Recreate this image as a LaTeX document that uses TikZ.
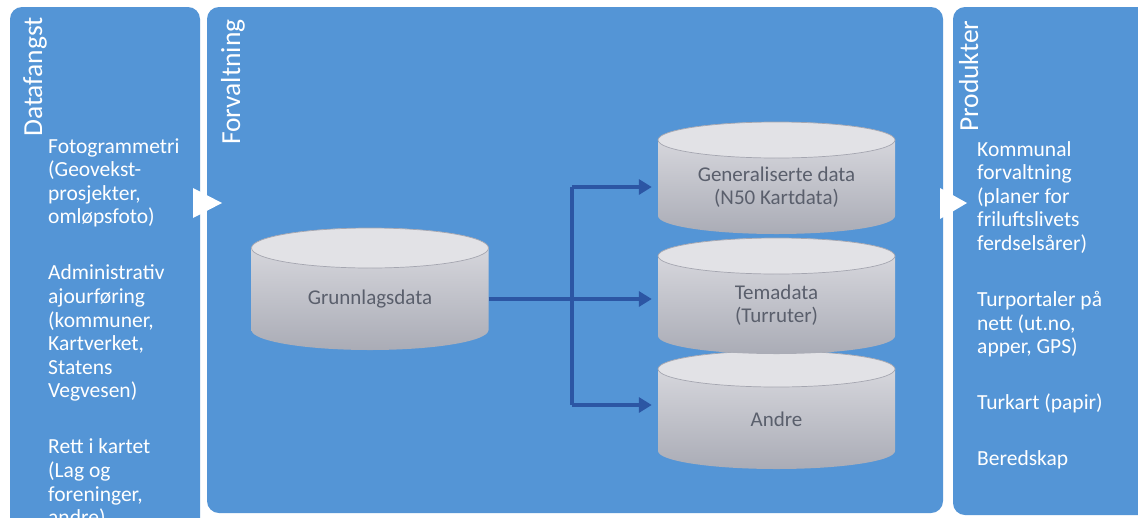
\documentclass[tikz,border=0pt]{standalone}
\usepackage{fontspec}
\setmainfont{Carlito}
\usetikzlibrary{arrows.meta,calc}

\definecolor{panelblue}{RGB}{84,149,214}
\definecolor{connblue}{RGB}{44,86,164}
\definecolor{cyltop}{RGB}{222,222,227}
\definecolor{cylbot}{RGB}{170,172,182}
\definecolor{cylcap}{RGB}{226,226,230}
\definecolor{cylline}{RGB}{165,166,176}
\definecolor{dbink}{RGB}{90,95,108}

\newcommand\cylrx{118.5}
% cylinder: name, centre x, top-ellipse y, bottom-ellipse y, y radius, label
\newcommand\datacyl[6]{%
  \pgfmathsetmacro\ka{0.5523*\cylrx}%
  \pgfmathsetmacro\kb{0.5523*#5}%
  \shade[top color=cyltop, bottom color=cylbot]
    ({#2-\cylrx},#3) -- ({#2-\cylrx},#4)
    .. controls ({#2-\cylrx},{#4+\kb}) and ({#2-\ka},{#4+#5}) .. (#2,{#4+#5})
    .. controls ({#2+\ka},{#4+#5}) and ({#2+\cylrx},{#4+\kb}) .. ({#2+\cylrx},#4)
    -- ({#2+\cylrx},#3)
    .. controls ({#2+\cylrx},{#3-\kb}) and ({#2+\ka},{#3-#5}) .. (#2,{#3-#5})
    .. controls ({#2-\ka},{#3-#5}) and ({#2-\cylrx},{#3-\kb}) .. ({#2-\cylrx},#3)
    -- cycle;
  \filldraw[fill=cylcap, draw=cylline, line width=0.7pt]
    (#2,#3) ellipse [x radius=\cylrx, y radius=#5];
  \pgfmathsetmacro\hh{#4+#5-#3}%
  \pgfmathsetmacro\cc{(#3+#4+#5)/2}%
  \node[dbtext, minimum height=\hh pt, minimum width=237pt] (#1) at (#2,\cc) {#6};
}

\tikzset{
  panel/.style={fill=panelblue, rounded corners=12pt},
  chevron/.style={fill=white},
  title/.style={text=white, font=\fontsize{27.5}{30}\selectfont, inner sep=0pt},
  body/.style={text=white, font=\fontsize{21.5}{23.6}\selectfont, inner sep=0pt, align=left},
  dbtext/.style={text=dbink, font=\fontsize{21}{23.5}\selectfont, inner sep=0pt, align=center},
  conn/.style={draw=connblue, line width=4.5pt, -{Triangle[length=13pt,width=15pt]}, shorten >=6pt},
}

\begin{document}
\begin{tikzpicture}[x=1pt,y=-1pt]
\useasboundingbox (0,0) rectangle (1138,517);
\clip (0,0) rectangle (1138,517);
\fill[white] (0,0) rectangle (1138,517);

% three phase panels
\path[panel] (10,7) rectangle (200,540);
\path[panel] (207,7) rectangle (943,513);
\path[panel] (953,7) rectangle (1160,515);

% white chevrons between the panels
\path[chevron] (193,188) -- (222,203) -- (193,218) -- cycle;
\path[chevron] (940,188) -- (967,203) -- (940,219) -- cycle;

% panel headings
\node[title, rotate=90, anchor=base west] (hA) at (42,137) {Datafangst};
\node[title, rotate=90, anchor=base west] (hB) at (240,145) {Forvaltning};
\node[title, rotate=90, anchor=base west] (hC) at (978,132) {Produkter};

% panel contents
\node[body, anchor=north west] (srcs) at (48,138) {%
Fotogrammetri\\(Geovekst-\\prosjekter,\\omløpsfoto)\\[32.4pt]
Administrativ\\ajourføring\\(kommuner,\\Kartverket,\\Statens\\Vegvesen)\\[32.4pt]
Rett i kartet\\(Lag og\\foreninger,\\andre)};

\node[body, anchor=north west] (prods) at (977,141) {%
Kommunal\\forvaltning\\(planer for\\friluftslivets\\ferdselsårer)\\[32.4pt]
Turportaler på\\nett (ut.no,\\apper, GPS)\\[32.4pt]
Turkart (papir)\\[32.4pt]
Beredskap};

% databases
\datacyl{grunn}{370}{248}{330}{20}{Grunnlagsdata}
\datacyl{andre}{776.5}{369}{451}{18}{Andre}
\datacyl{tema}{776.5}{256}{336}{18}{Temadata\\(Turruter)}
\datacyl{gen}{776.5}{140}{216}{18}{Generaliserte data\\(N50 Kartdata)}

% distribution connectors
\coordinate (jt) at (572,187);
\coordinate (jb) at (572,405);
\draw[conn] (grunn.east) -- (grunn.east -| tema.west);
\draw[conn, -, shorten >=0pt] (jt) -- (jb);
\draw[conn] (jt) -- (jt -| gen.west);
\draw[conn] (jb) -- (jb -| andre.west);
\end{tikzpicture}
\end{document}
